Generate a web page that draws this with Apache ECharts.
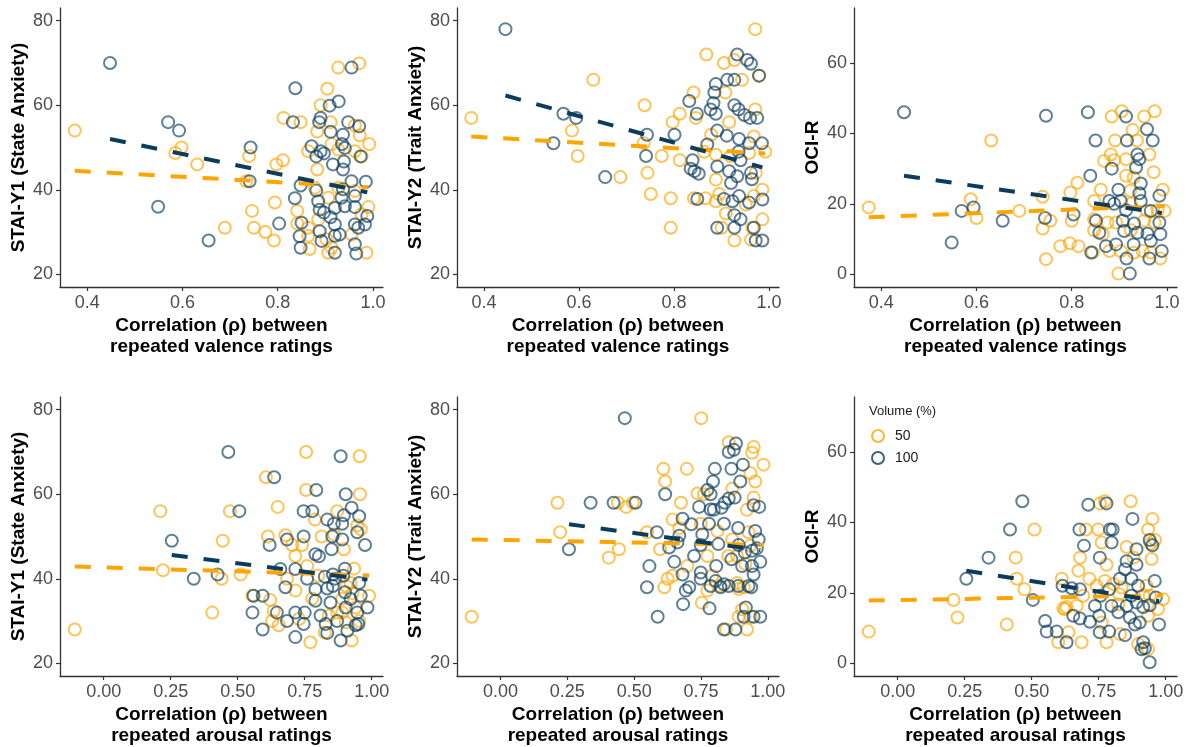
<!DOCTYPE html>
<html>
<head>
<meta charset="utf-8">
<script src="https://cdn.jsdelivr.net/npm/echarts@6/dist/echarts.min.js"></script>
<style>html,body{margin:0;padding:0;background:#fff}#c{width:1193px;height:747px}</style>
</head>
<body>
<div id="c"></div>
<script>
// ---------- DATA ----------
const groups = ['50', '100'];
const yTitles = ['STAI-Y1 (State Anxiety)', 'STAI-Y2 (Trait Anxiety)', 'OCI-R'];
const xTitleTop = 'Correlation (\u03c1) between\nrepeated valence ratings';
const xTitleBottom = 'Correlation (\u03c1) between\nrepeated arousal ratings';
const xTicksTop = [0.4, 0.6, 0.8, 1.0];
const xTicksBottom = [0, 0.25, 0.5, 0.75, 1.0];
const yTicksStai = [20, 40, 60, 80];
const yTicksOci = [0, 20, 40, 60];

// Panel 1: valence vs STAI-Y1
const p1_50 = [[0.374,54],[0.585,48.7],[0.598,50],[0.631,46],[0.689,31],[0.74,48],[0.734,42],[0.746,35],[0.75,31],[0.774,30],[0.792,28],[0.794,37],[0.797,46],[0.811,47],[0.812,57],[0.848,56],[0.841,35],[0.841,32],[0.867,26],
 [0.927,68.9],[0.971,69.9],[0.904,63.9],[0.89,60],[0.911,56],[0.962,55.2],[0.883,53.8],[0.972,52.9],[0.992,50.8],[0.913,50.8],[0.864,49.1],[0.962,49.1],[0.927,49.5],[0.883,44.8],[0.878,40.5],[0.927,40.5],[0.962,39.7],[0.906,38.1],[0.99,35.9],[0.976,34.2],[0.885,33],[0.864,31],[0.864,29.1],[0.955,29.4],[0.902,28.3],[0.913,26.3],[0.906,25.1],[0.986,25.1],[0.976,47.9]];
const p1_100 = [[0.448,70],[0.57,56],[0.593,54],[0.549,36],[0.655,28],[0.743,50],[0.741,42],[0.803,32],[0.837,64],[0.832,56],[0.836,38],[0.848,41],[0.846,29],[0.848,26.3],
 [0.955,68.9],[0.928,60.9],[0.909,59.9],[0.89,57],[0.887,56],[0.948,56],[0.971,55],[0.911,53.7],[0.937,53],[0.935,50.8],[0.871,50.3],[0.941,49.9],[0.89,49.1],[0.897,48.6],[0.974,47.9],[0.881,47.9],[0.916,46],[0.939,46.7],[0.937,44.8],[0.955,42],[0.985,41.9],[0.881,39.8],[0.937,40.1],[0.885,37.3],[0.934,38.1],[0.962,38.5],[0.888,35.3],[0.92,35.7],[0.941,36.1],[0.962,35.9],[0.897,34.6],[0.988,33.8],[0.911,33.5],[0.85,32.2],[0.92,31.8],[0.962,31.8],[0.969,31],[0.983,31.8],[0.888,30.2],[0.92,29.1],[0.93,29.4],[0.892,27.9],[0.962,27.1],[0.92,25.1],[0.965,24.9]];
const fit1_50 = [[0.374,44.5],[0.99,40.6]];
const fit1_100 = [[0.448,52],[0.988,39.4]];

// Panel 2: valence vs STAI-Y2
const p2_50 = [[0.373,57],[0.585,54],[0.597,48],[0.63,66],[0.687,43],[0.738,60],[0.736,51],[0.744,44],[0.751,39],[0.774,48],[0.797,56],[0.812,58],[0.793,38],[0.793,31],[0.812,47],[0.868,72],[0.971,78],[0.905,70],[0.927,70.7],[0.979,67],[0.943,66],[0.841,63],[0.908,63],[0.846,57],[0.971,59],[0.916,56],[0.878,53],[0.968,52.6],[0.992,49],[0.863,49],[0.888,48.3],[0.919,48],[0.958,48.7],[0.888,42.4],[0.972,44],[0.986,40],[0.842,38],[0.866,38],[0.888,37.3],[0.895,39],[0.951,36.5],[0.968,38.5],[0.909,34.4],[0.986,33],[0.9,31],[0.965,31],[0.927,28],[0.962,28.2]];
const p2_100 = [[0.445,78],[0.546,51],[0.567,58],[0.594,57],[0.655,43],[0.743,53],[0.741,48],[0.801,53],[0.933,72],[0.954,70.7],[0.962,69.8],[0.979,67],[0.888,65],[0.912,66],[0.927,66],[0.832,61],[0.885,63],[0.883,60.5],[0.877,59],[0.888,58],[0.848,58],[0.927,60],[0.936,59],[0.948,57.7],[0.96,57],[0.975,57],[0.891,54],[0.911,52.8],[0.937,52],[0.958,51],[0.985,51],[0.87,50.7],[0.936,49],[0.94,47],[0.839,47],[0.835,45],[0.852,43.8],[0.843,44.4],[0.891,45.5],[0.916,44.4],[0.933,43.2],[0.962,44],[0.964,42.5],[0.92,41.6],[0.849,37.8],[0.905,37.8],[0.923,37.3],[0.937,38.5],[0.958,37],[0.986,37.7],[0.927,34],[0.94,33],[0.891,31],[0.927,31],[0.968,31],[0.972,28],[0.986,28]];
const fit2_50 = [[0.373,52.6],[0.992,48.6]];
const fit2_100 = [[0.445,62.3],[0.986,45.3]];

// Panel 3: valence vs OCI-R
const p3_50 = [[0.374,19],[0.588,21.3],[0.6,16],[0.631,38],[0.69,18],[0.739,22],[0.739,13],[0.755,15.2],[0.746,4.3],[0.776,8],[0.796,8.8],[0.814,8],[0.797,23.2],[0.8,15.2],[0.812,26],[0.844,6.2],[0.884,44.8],[0.905,46.3],[0.952,44.8],[0.974,46.3],[0.928,41],[0.891,38],[0.937,38],[0.963,34],[0.882,34],[0.868,32.2],[0.889,32.4],[0.914,32.7],[0.972,29],[0.93,27.5],[0.914,28],[0.861,24],[0.923,23.7],[0.991,24],[0.847,20.8],[0.924,20],[0.958,18],[0.98,18.2],[0.995,18],[0.847,15.6],[0.875,14.7],[0.893,14.7],[0.952,15.2],[0.974,14.7],[0.847,12.5],[0.865,11.4],[0.924,12.5],[0.879,6.6],[0.903,6.6],[0.949,6.6],[0.966,6.2],[0.93,6.1],[0.986,4.5],[0.898,0.2]];
const p3_100 = [[0.448,46],[0.548,9],[0.569,18],[0.594,19],[0.655,15.2],[0.746,45],[0.744,16],[0.804,17],[0.834,46],[0.839,28],[0.85,38],[0.841,6.2],[0.914,44.8],[0.958,41.2],[0.916,38],[0.97,38],[0.938,34],[0.942,32.7],[0.884,30],[0.935,30.3],[0.945,25.8],[0.898,24],[0.942,23],[0.984,22.3],[0.879,20.8],[0.889,20],[0.903,20.8],[0.914,18.2],[0.945,20.8],[0.966,18],[0.851,15.2],[0.907,15.2],[0.931,14.4],[0.984,14.7],[0.858,11.8],[0.91,12.3],[0.938,11.8],[0.959,11.5],[0.986,11.4],[0.872,8],[0.893,8.5],[0.93,8.5],[0.966,9.5],[0.989,6.6],[0.915,4.5],[0.963,4.5],[0.922,0.2]];
const fit3_50 = [[0.374,16.2],[0.995,19.4]];
const fit3_100 = [[0.448,28],[0.989,17.4]];

// Panel 4: arousal vs STAI-Y1
const p4_50 = [[-0.108,28],[0.211,56],[0.221,42],[0.405,32],[0.44,40],[0.444,49],[0.471,56],[0.511,41],[0.555,36],[0.605,64],[0.649,57],[0.6125,50],[0.621,35],[0.755,70],[0.955,69],[0.755,61],[0.956,60],[0.788,54],[0.871,56],[0.946,52.6],[0.959,51.7],[0.859,50.5],[0.896,47],[0.678,50.3],[0.703,48],[0.74,48],[0.715,45.4],[0.813,50],[0.759,43],[0.684,40],[0.8,40.7],[0.934,42.4],[0.921,39],[0.715,37.2],[0.905,38.3],[0.928,36.6],[0.99,36],[0.778,35.3],[0.89,35.3],[0.94,33.2],[0.871,32],[0.634,32.4],[0.628,30],[0.728,30.5],[0.84,31.3],[0.89,32],[0.903,29.7],[0.953,30],[0.653,29],[0.771,25],[0.825,27.3],[0.925,25.4]];
const p4_100 = [[0.254,49],[0.336,40],[0.425,41],[0.465,70],[0.506,56],[0.559,36],[0.555,32],[0.593,36],[0.593,28],[0.636,64],[0.619,48],[0.884,69],[0.793,61],[0.903,60],[0.746,56],[0.778,56],[0.896,55],[0.925,56.8],[0.953,54.8],[0.946,51],[0.834,54],[0.859,53],[0.89,53],[0.853,50],[0.89,49.3],[0.975,48],[0.684,49.3],[0.746,50],[0.79,45.8],[0.803,45.3],[0.85,47],[0.659,42.3],[0.715,42.3],[0.678,38],[0.759,40],[0.825,40.5],[0.855,41],[0.9,42.4],[0.894,40.7],[0.953,39],[0.863,40],[0.79,37.5],[0.834,37.7],[0.855,38.3],[0.9,36.8],[0.959,36],[0.984,33.2],[0.79,34.8],[0.846,34.4],[0.921,35.2],[0.903,33.2],[0.946,32],[0.646,32],[0.684,30],[0.715,32],[0.75,32],[0.746,29.3],[0.809,31.3],[0.828,29.3],[0.871,30],[0.94,29],[0.95,29.3],[0.715,26.2],[0.834,27.2],[0.884,25.4],[0.909,27.7]];
const fit4_50 = [[-0.108,42.9],[0.99,40.8]];
const fit4_100 = [[0.254,45.6],[0.984,39.8]];

// Panel 5: arousal vs STAI-Y2
const p5_50 = [[-0.108,31],[0.213,58],[0.223,51],[0.405,45],[0.439,58],[0.443,47],[0.47,57],[0.495,58],[0.548,51],[0.597,47],[0.609,66],[0.616,63],[0.613,38],[0.625,40],[0.751,78],[0.697,66],[0.675,58],[0.854,72.3],[0.947,71.2],[0.941,69.8],[0.984,67],[0.935,65],[0.953,63],[0.737,60.2],[0.761,60],[0.867,61.3],[0.947,59.2],[0.922,56.3],[0.644,54],[0.669,52],[0.749,53],[0.811,51.3],[0.928,51],[0.867,49.3],[0.935,47.8],[0.774,45.4],[0.699,43],[0.852,45.4],[0.885,45.4],[0.916,43.5],[0.644,40.7],[0.823,38.3],[0.885,39],[0.91,38],[0.774,37.2],[0.891,37.6],[0.753,34.3],[0.904,32.8],[0.891,31],[0.935,31],[0.844,28],[0.922,28],[0.792,40.7]];
const p5_100 = [[0.256,47],[0.337,58],[0.423,58],[0.465,78],[0.505,58],[0.557,43],[0.548,38],[0.588,31],[0.585,51],[0.616,60],[0.881,72],[0.854,70],[0.873,70.5],[0.802,66],[0.864,66],[0.907,67],[0.795,63],[0.897,63],[0.774,61],[0.786,60],[0.854,59],[0.876,59.2],[0.839,58],[0.947,57.4],[0.968,57],[0.743,57],[0.786,56.4],[0.798,56.3],[0.827,56.8],[0.681,54.2],[0.714,52.9],[0.78,53],[0.836,53],[0.889,52],[0.953,51.3],[0.966,49.3],[0.669,50.2],[0.662,48.6],[0.631,47.4],[0.755,50.5],[0.749,48],[0.815,48.2],[0.891,48],[0.914,46.2],[0.941,46.6],[0.959,47.2],[0.724,45.4],[0.65,44],[0.749,41.5],[0.807,43],[0.864,44.6],[0.904,43],[0.941,43],[0.972,44],[0.947,41],[0.681,41],[0.749,40],[0.805,39.5],[0.836,38.7],[0.889,38.3],[0.928,38.3],[0.706,38],[0.693,37.2],[0.786,38.3],[0.823,38],[0.854,38.3],[0.938,38],[0.683,34],[0.782,33],[0.918,33.2],[0.91,31],[0.947,31],[0.972,31],[0.836,28],[0.879,28]];
const fit5_50 = [[-0.108,49.3],[0.984,48]];
const fit5_100 = [[0.256,52.9],[0.972,46.8]];

// Panel 6: arousal vs OCI-R
const p6_50 = [[-0.108,9],[0.208,18],[0.223,13],[0.407,11],[0.44,30],[0.444,24],[0.473,21],[0.51,38],[0.599,6],[0.612,24],[0.624,15.4],[0.754,45.4],[0.773,46],[0.869,46],[0.95,41],[0.702,38],[0.748,38],[0.934,38],[0.943,34],[0.761,34.3],[0.854,33],[0.779,28],[0.68,30],[0.947,29.6],[0.674,26.3],[0.715,24],[0.773,23.4],[0.804,22.5],[0.742,22],[0.835,21.5],[0.928,22],[0.692,19.2],[0.826,19.6],[0.916,19.4],[0.99,18.2],[0.94,19.2],[0.63,16],[0.668,16.3],[0.823,16.8],[0.971,15.4],[0.618,15.6],[0.761,11.6],[0.934,13.5],[0.637,8.8],[0.686,6],[0.779,6],[0.829,8.3],[0.897,5.5],[0.934,4.1],[0.88,30],[0.96,35]];
const p6_100 = [[0.256,24],[0.339,30],[0.419,38],[0.465,46],[0.504,18],[0.55,12],[0.556,9],[0.593,9],[0.63,6],[0.711,45],[0.779,45.4],[0.876,41],[0.678,38],[0.792,38],[0.802,38],[0.94,35],[0.95,33.5],[0.798,34.3],[0.695,33.4],[0.891,32.4],[0.754,30],[0.854,29],[0.891,28],[0.848,26.7],[0.829,24],[0.872,24],[0.959,23.4],[0.615,22],[0.789,21],[0.897,22],[0.649,21.3],[0.68,21],[0.757,19.2],[0.872,19.2],[0.963,18.7],[0.736,16.3],[0.798,16.3],[0.854,16.3],[0.891,17.3],[0.916,16],[0.94,16.5],[0.655,13.5],[0.68,12.7],[0.717,11.8],[0.752,13.5],[0.823,14.5],[0.866,13],[0.885,11],[0.975,11],[0.903,11.6],[0.754,8.8],[0.789,9],[0.848,8],[0.916,6],[0.91,4],[0.922,4.3],[0.94,0.3]];
const fit6_50 = [[-0.108,17.8],[0.99,19.3]];
const fit6_100 = [[0.256,26.3],[0.975,17.6]];

// ---------- STYLE / LAYOUT ----------
const FONT = '"Liberation Sans", Arial, sans-serif';
const ORANGE_PT = 'rgba(255,165,0,0.82)';
const BLUE_PT = 'rgba(11,60,93,0.82)';
const ORANGE_LN = '#FFA500';
const BLUE_LN = '#0B3C5D';

const panels = [
  {grid:{left:60,top:8,width:323,height:279}, row:0, yi:0, d50:p1_50, d100:p1_100, f50:fit1_50, f100:fit1_100},
  {grid:{left:457,top:8,width:322,height:279}, row:0, yi:1, d50:p2_50, d100:p2_100, f50:fit2_50, f100:fit2_100},
  {grid:{left:854,top:8,width:323,height:279}, row:0, yi:2, d50:p3_50, d100:p3_100, f50:fit3_50, f100:fit3_100},
  {grid:{left:60,top:397,width:323,height:280}, row:1, yi:0, d50:p4_50, d100:p4_100, f50:fit4_50, f100:fit4_100},
  {grid:{left:457,top:397,width:322,height:280}, row:1, yi:1, d50:p5_50, d100:p5_100, f50:fit5_50, f100:fit5_100},
  {grid:{left:854,top:397,width:323,height:280}, row:1, yi:2, d50:p6_50, d100:p6_100, f50:fit6_50, f100:fit6_100}
];

const grids = [], xAxes = [], yAxes = [], series = [];
panels.forEach((p, i) => {
  grids.push(p.grid);
  const top = p.row === 0;
  const xt = top ? xTicksTop : xTicksBottom;
  xAxes.push({
    type:'value', gridIndex:i,
    min: top ? 0.343 : -0.163, max: top ? 1.021 : 1.042,
    splitLine:{show:false},
    axisLine:{show:true, onZero:false, lineStyle:{color:'#333', width:1.3}},
    axisTick:{show:true, length:4, lineStyle:{color:'#333', width:1.2}, customValues: xt},
    axisLabel:{color:'#4D4D4D', fontSize:18, fontFamily:FONT, margin:7, customValues: xt,
      formatter: v => top ? v.toFixed(1) : v.toFixed(2)},
    name: top ? xTitleTop : xTitleBottom,
    nameLocation:'middle', nameGap:28,
    nameTextStyle:{color:'#000', fontSize:19, fontWeight:'bold', fontFamily:FONT, lineHeight:21, verticalAlign:'top'}
  });
  const oci = p.yi === 2;
  const yt = oci ? yTicksOci : yTicksStai;
  yAxes.push({
    type:'value', gridIndex:i,
    min: oci ? -3.6 : 17, max: oci ? 75.6 : 83,
    splitLine:{show:false},
    axisLine:{show:true, onZero:false, lineStyle:{color:'#333', width:1.3}},
    axisTick:{show:true, length:4, lineStyle:{color:'#333', width:1.2}, customValues: yt},
    axisLabel:{color:'#4D4D4D', fontSize:18, fontFamily:FONT, margin:7, customValues: yt},
    name: yTitles[p.yi], nameLocation:'middle', nameGap:32,
    nameTextStyle:{color:'#000', fontSize:19, fontWeight:'bold', fontFamily:FONT}
  });
  [['50', p.d50, ORANGE_PT], ['100', p.d100, BLUE_PT]].forEach(([nm, d, c]) => {
    series.push({
      type:'scatter', name:nm, xAxisIndex:i, yAxisIndex:i, data:d,
      symbol:'circle', symbolSize:12, silent:true,
      itemStyle:{color:'rgba(0,0,0,0)', borderColor:c, borderWidth:2}
    });
  });
  [['fit50', p.f50, ORANGE_LN], ['fit100', p.f100, BLUE_LN]].forEach(([nm, d, c]) => {
    series.push({
      type:'line', name:nm, xAxisIndex:i, yAxisIndex:i, data:d,
      symbol:'none', silent:true, z:5,
      lineStyle:{color:c, width:4, type:[16,16]}
    });
  });
});

const chart = echarts.init(document.getElementById('c'), null, {renderer:'canvas'});
chart.setOption({
  animation:false,
  backgroundColor:'#fff',
  title:{text:'Volume (%)', left:864, top:400, textStyle:{fontSize:13, fontWeight:'normal', color:'#1a1a1a', fontFamily:FONT}},
  legend:{
    left:866, top:424, orient:'vertical', itemWidth:20, itemHeight:12, itemGap:8,
    selectedMode:false,
    textStyle:{fontSize:14, color:'#1a1a1a', fontFamily:FONT, padding:[0,0,0,2]},
    data:[
      {name:'50', icon:'circle', itemStyle:{color:'rgba(0,0,0,0)', borderColor:ORANGE_LN, borderWidth:2}},
      {name:'100', icon:'circle', itemStyle:{color:'rgba(0,0,0,0)', borderColor:BLUE_LN, borderWidth:2}}
    ]
  },
  grid:grids, xAxis:xAxes, yAxis:yAxes, series:series
});
</script>
</body>
</html>
